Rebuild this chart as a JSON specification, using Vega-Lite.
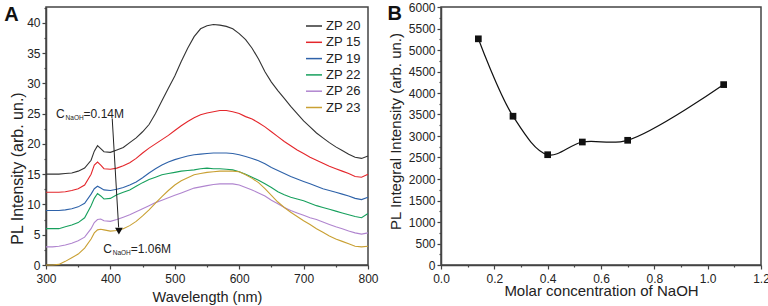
{
  "$schema": "https://vega.github.io/schema/vega-lite/v6.json",
  "autosize": {"type": "pad"},
  "padding": {"left": 3, "top": 0, "right": 0, "bottom": 0},
  "spacing": 7,
  "config": {
    "font": "Liberation Sans",
    "view": {"stroke": "#444", "strokeWidth": 1.5},
    "axis": {"grid": false, "domainColor": "#444", "domainWidth": 1.5, "tickColor": "#444", "tickWidth": 1.2, "labelColor": "#222", "labelFontSize": 12, "titleColor": "#222", "titleFontWeight": "normal", "labelFont": "Liberation Sans", "titleFont": "Liberation Sans", "labelOverlap": false, "labelFlush": false},
    "legend": {"labelFont": "Liberation Sans"}
  },
  "datasets": {
    "spec": [
      {"w":300,"ZP 20":15.0,"ZP 15":12.0,"ZP 19":9.0,"ZP 22":6.0,"ZP 26":3.0,"ZP 23":0.0},
      {"w":310,"ZP 20":15.0,"ZP 15":12.0,"ZP 19":9.0,"ZP 22":6.0,"ZP 26":3.0,"ZP 23":0.0},
      {"w":320,"ZP 20":15.0,"ZP 15":12.0,"ZP 19":9.0,"ZP 22":6.0,"ZP 26":3.1,"ZP 23":0.1},
      {"w":330,"ZP 20":15.1,"ZP 15":12.1,"ZP 19":9.1,"ZP 22":6.3,"ZP 26":3.3,"ZP 23":0.6},
      {"w":340,"ZP 20":15.2,"ZP 15":12.3,"ZP 19":9.3,"ZP 22":6.6,"ZP 26":3.6,"ZP 23":1.2},
      {"w":350,"ZP 20":15.5,"ZP 15":12.6,"ZP 19":9.6,"ZP 22":7.0,"ZP 26":4.0,"ZP 23":1.8},
      {"w":360,"ZP 20":16.0,"ZP 15":13.2,"ZP 19":10.2,"ZP 22":7.8,"ZP 26":4.6,"ZP 23":2.8},
      {"w":370,"ZP 20":17.3,"ZP 15":15.0,"ZP 19":11.7,"ZP 22":9.8,"ZP 26":6.0,"ZP 23":4.3},
      {"w":375,"ZP 20":18.8,"ZP 15":16.5,"ZP 19":12.6,"ZP 22":11.0,"ZP 26":7.0,"ZP 23":5.3},
      {"w":380,"ZP 20":19.7,"ZP 15":17.0,"ZP 19":13.0,"ZP 22":11.8,"ZP 26":7.5,"ZP 23":5.8},
      {"w":385,"ZP 20":19.2,"ZP 15":16.5,"ZP 19":12.7,"ZP 22":11.4,"ZP 26":7.6,"ZP 23":5.9},
      {"w":390,"ZP 20":18.7,"ZP 15":15.9,"ZP 19":12.4,"ZP 22":10.9,"ZP 26":7.3,"ZP 23":5.8},
      {"w":400,"ZP 20":18.6,"ZP 15":15.8,"ZP 19":12.3,"ZP 22":11.0,"ZP 26":7.2,"ZP 23":5.6},
      {"w":410,"ZP 20":19.0,"ZP 15":16.0,"ZP 19":12.5,"ZP 22":11.6,"ZP 26":7.5,"ZP 23":5.7},
      {"w":420,"ZP 20":19.4,"ZP 15":16.4,"ZP 19":12.8,"ZP 22":12.0,"ZP 26":7.9,"ZP 23":6.0},
      {"w":430,"ZP 20":20.2,"ZP 15":16.9,"ZP 19":13.2,"ZP 22":12.4,"ZP 26":8.3,"ZP 23":6.5},
      {"w":440,"ZP 20":21.0,"ZP 15":17.6,"ZP 19":13.7,"ZP 22":13.0,"ZP 26":8.8,"ZP 23":7.2},
      {"w":450,"ZP 20":22.0,"ZP 15":18.5,"ZP 19":14.4,"ZP 22":13.6,"ZP 26":9.3,"ZP 23":8.1},
      {"w":460,"ZP 20":23.2,"ZP 15":19.3,"ZP 19":15.2,"ZP 22":14.1,"ZP 26":9.8,"ZP 23":9.1},
      {"w":470,"ZP 20":25.0,"ZP 15":20.0,"ZP 19":15.9,"ZP 22":14.5,"ZP 26":10.3,"ZP 23":10.2},
      {"w":480,"ZP 20":27.1,"ZP 15":20.7,"ZP 19":16.5,"ZP 22":14.9,"ZP 26":10.7,"ZP 23":11.3},
      {"w":490,"ZP 20":29.2,"ZP 15":21.4,"ZP 19":17.0,"ZP 22":15.1,"ZP 26":11.1,"ZP 23":12.3},
      {"w":500,"ZP 20":31.2,"ZP 15":22.2,"ZP 19":17.4,"ZP 22":15.3,"ZP 26":11.5,"ZP 23":13.2},
      {"w":510,"ZP 20":33.6,"ZP 15":23.0,"ZP 19":17.7,"ZP 22":15.5,"ZP 26":11.9,"ZP 23":13.9},
      {"w":520,"ZP 20":35.8,"ZP 15":23.7,"ZP 19":18.0,"ZP 22":15.6,"ZP 26":12.3,"ZP 23":14.4},
      {"w":530,"ZP 20":37.7,"ZP 15":24.3,"ZP 19":18.2,"ZP 22":15.7,"ZP 26":12.7,"ZP 23":14.9},
      {"w":540,"ZP 20":39.0,"ZP 15":24.8,"ZP 19":18.3,"ZP 22":15.9,"ZP 26":12.9,"ZP 23":15.1},
      {"w":550,"ZP 20":39.5,"ZP 15":25.1,"ZP 19":18.4,"ZP 22":16.0,"ZP 26":13.1,"ZP 23":15.3},
      {"w":560,"ZP 20":39.7,"ZP 15":25.3,"ZP 19":18.5,"ZP 22":15.9,"ZP 26":13.3,"ZP 23":15.4},
      {"w":570,"ZP 20":39.6,"ZP 15":25.5,"ZP 19":18.5,"ZP 22":15.9,"ZP 26":13.4,"ZP 23":15.5},
      {"w":580,"ZP 20":39.4,"ZP 15":25.5,"ZP 19":18.5,"ZP 22":15.8,"ZP 26":13.4,"ZP 23":15.5},
      {"w":590,"ZP 20":39.0,"ZP 15":25.3,"ZP 19":18.4,"ZP 22":15.7,"ZP 26":13.4,"ZP 23":15.5},
      {"w":600,"ZP 20":38.2,"ZP 15":25.0,"ZP 19":18.2,"ZP 22":15.4,"ZP 26":13.2,"ZP 23":15.4},
      {"w":610,"ZP 20":37.2,"ZP 15":24.5,"ZP 19":17.9,"ZP 22":15.0,"ZP 26":12.8,"ZP 23":14.9},
      {"w":620,"ZP 20":35.8,"ZP 15":24.1,"ZP 19":17.6,"ZP 22":14.5,"ZP 26":12.4,"ZP 23":14.3},
      {"w":630,"ZP 20":34.0,"ZP 15":23.5,"ZP 19":17.2,"ZP 22":14.0,"ZP 26":11.9,"ZP 23":13.6},
      {"w":640,"ZP 20":31.9,"ZP 15":22.8,"ZP 19":16.7,"ZP 22":13.4,"ZP 26":11.4,"ZP 23":12.6},
      {"w":650,"ZP 20":30.2,"ZP 15":22.0,"ZP 19":16.1,"ZP 22":12.8,"ZP 26":10.7,"ZP 23":11.5},
      {"w":660,"ZP 20":28.8,"ZP 15":21.2,"ZP 19":15.6,"ZP 22":12.1,"ZP 26":10.1,"ZP 23":10.4},
      {"w":670,"ZP 20":27.5,"ZP 15":20.4,"ZP 19":15.1,"ZP 22":11.6,"ZP 26":9.5,"ZP 23":9.5},
      {"w":680,"ZP 20":26.2,"ZP 15":19.7,"ZP 19":14.6,"ZP 22":11.2,"ZP 26":9.0,"ZP 23":8.7},
      {"w":690,"ZP 20":25.0,"ZP 15":19.0,"ZP 19":14.2,"ZP 22":10.9,"ZP 26":8.6,"ZP 23":8.0},
      {"w":700,"ZP 20":23.8,"ZP 15":18.4,"ZP 19":13.8,"ZP 22":10.6,"ZP 26":8.2,"ZP 23":7.3},
      {"w":710,"ZP 20":22.8,"ZP 15":17.8,"ZP 19":13.4,"ZP 22":10.2,"ZP 26":7.8,"ZP 23":6.7},
      {"w":720,"ZP 20":21.8,"ZP 15":17.3,"ZP 19":13.0,"ZP 22":9.8,"ZP 26":7.5,"ZP 23":6.0},
      {"w":730,"ZP 20":21.0,"ZP 15":16.8,"ZP 19":12.6,"ZP 22":9.5,"ZP 26":7.1,"ZP 23":5.4},
      {"w":740,"ZP 20":20.2,"ZP 15":16.3,"ZP 19":12.3,"ZP 22":9.2,"ZP 26":6.7,"ZP 23":4.8},
      {"w":750,"ZP 20":19.5,"ZP 15":15.9,"ZP 19":12.0,"ZP 22":8.9,"ZP 26":6.3,"ZP 23":4.3},
      {"w":760,"ZP 20":18.9,"ZP 15":15.5,"ZP 19":11.7,"ZP 22":8.6,"ZP 26":6.0,"ZP 23":3.9},
      {"w":770,"ZP 20":18.3,"ZP 15":15.1,"ZP 19":11.4,"ZP 22":8.3,"ZP 26":5.6,"ZP 23":3.5},
      {"w":780,"ZP 20":17.8,"ZP 15":14.6,"ZP 19":11.0,"ZP 22":8.0,"ZP 26":5.3,"ZP 23":3.1},
      {"w":790,"ZP 20":17.6,"ZP 15":14.5,"ZP 19":10.8,"ZP 22":7.8,"ZP 26":5.1,"ZP 23":3.0},
      {"w":800,"ZP 20":18.0,"ZP 15":15.0,"ZP 19":11.2,"ZP 22":8.5,"ZP 26":5.3,"ZP 23":3.1}
    ],
    "ann": [
      {"w":315.6,"v":24.2,"t":"C","k":"main"},
      {"w":330.4,"v":23.9,"t":"NaOH","k":"sub"},
      {"w":358.4,"v":24.2,"t":"=0.14M","k":"main"},
      {"w":388.8,"v":2.0,"t":"C","k":"main"},
      {"w":403.6,"v":1.7,"t":"NaOH","k":"sub"},
      {"w":431.6,"v":2.0,"t":"=1.06M","k":"main"}
    ],
    "arrow": [{"w":402.8,"v":24.2,"w2":412.8,"v2":6.2}],
    "head": [{"w":413.2,"v":5.6}],
    "labA": [{"w":246.3,"v":41.3,"t":"A"}],
    "pts": [
      {"c":0.14,"p":5260},
      {"c":0.27,"p":3460},
      {"c":0.40,"p":2565},
      {"c":0.53,"p":2860},
      {"c":0.70,"p":2900},
      {"c":1.06,"p":4195}
    ],
    "labB": [{"c":-0.174,"p":5837,"t":"B"}]
  },
  "hconcat": [
    {
      "width": 322,
      "height": 258,
      "layer": [
        {
          "data": {"name": "spec"},
          "transform": [{"fold": ["ZP 20","ZP 15","ZP 19","ZP 22","ZP 26","ZP 23"], "as": ["s","v"]}],
          "mark": {"type": "line", "strokeWidth": 1.1},
          "encoding": {
            "x": {"field": "w", "type": "quantitative", "scale": {"domain": [300, 800], "nice": false, "zero": false},
              "axis": {"title": "Wavelength (nm)", "values": [300,350,400,450,500,550,600,650,700,750,800], "tickCount": 200,
                "labelExpr": "datum.value % 100 === 0 ? format(datum.value, 'd') : ''", "labelOverlap": false,
                "tickSize": {"condition": {"test": "datum.value % 100 !== 0", "value": 2}, "value": 4},
                "labelPadding": 4, "titleFontSize": 14.5, "titleY": 32, "titleBaseline": "middle"}},
            "y": {"field": "v", "type": "quantitative", "scale": {"domain": [0, 42.6], "nice": false},
              "axis": {"title": "PL Intensity (arb. un.)", "values": [0,2.5,5,7.5,10,12.5,15,17.5,20,22.5,25,27.5,30,32.5,35,37.5,40,42.5], "tickCount": 200,
                "labelExpr": "datum.value % 5 === 0 ? format(datum.value, 'd') : ''", "labelOverlap": false,
                "tickSize": {"condition": {"test": "datum.value % 5 !== 0", "value": 2}, "value": 4},
                "labelPadding": 2, "titleFontSize": 16, "titleX": -29, "titleY": 161, "titleBaseline": "middle"}},
            "color": {"field": "s", "type": "nominal", "sort": null,
              "scale": {"domain": ["ZP 20","ZP 15","ZP 19","ZP 22","ZP 26","ZP 23"], "range": ["#333333","#e4262b","#2e62a9","#17a05d","#b085cf","#c9a033"]},
              "legend": {"title": null, "orient": "none", "legendX": 259, "legendY": 10, "padding": 0, "symbolType": "stroke", "symbolSize": 256, "symbolStrokeWidth": 1.5, "labelFontSize": 13, "labelColor": "#222", "rowPadding": 0.3, "labelOffset": 3}}
          }
        },
        {
          "data": {"name": "ann"},
          "transform": [{"filter": "datum.k === 'main'"}],
          "mark": {"type": "text", "align": "left", "baseline": "alphabetic", "fontSize": 12, "color": "#222"},
          "encoding": {
            "x": {"field": "w", "type": "quantitative", "title": "Wavelength (nm)"},
            "y": {"field": "v", "type": "quantitative", "title": "PL Intensity (arb. un.)"},
            "text": {"field": "t"}
          }
        },
        {
          "data": {"name": "ann"},
          "transform": [{"filter": "datum.k === 'sub'"}],
          "mark": {"type": "text", "align": "left", "baseline": "alphabetic", "fontSize": 6.5, "color": "#222"},
          "encoding": {
            "x": {"field": "w", "type": "quantitative", "title": "Wavelength (nm)"},
            "y": {"field": "v", "type": "quantitative", "title": "PL Intensity (arb. un.)"},
            "text": {"field": "t"}
          }
        },
        {
          "data": {"name": "arrow"},
          "mark": {"type": "rule", "color": "#222", "strokeWidth": 1},
          "encoding": {
            "x": {"field": "w", "type": "quantitative", "title": "Wavelength (nm)"},
            "y": {"field": "v", "type": "quantitative", "title": "PL Intensity (arb. un.)"},
            "x2": {"field": "w2"},
            "y2": {"field": "v2"}
          }
        },
        {
          "data": {"name": "head"},
          "mark": {"type": "point", "shape": "triangle-down", "filled": true, "color": "#111", "size": 60, "opacity": 1},
          "encoding": {
            "x": {"field": "w", "type": "quantitative", "title": "Wavelength (nm)"},
            "y": {"field": "v", "type": "quantitative", "title": "PL Intensity (arb. un.)"}
          }
        },
        {
          "data": {"name": "labA"},
          "mark": {"type": "text", "align": "center", "baseline": "middle", "fontSize": 20, "fontWeight": "bold", "color": "#111"},
          "encoding": {
            "x": {"field": "w", "type": "quantitative", "title": "Wavelength (nm)"},
            "y": {"field": "v", "type": "quantitative", "title": "PL Intensity (arb. un.)"},
            "text": {"field": "t"}
          }
        }
      ]
    },
    {
      "width": 320,
      "height": 258,
      "layer": [
        {
          "data": {"name": "pts"},
          "mark": {"type": "line", "interpolate": "catmull-rom", "color": "#111", "strokeWidth": 1.2},
          "encoding": {
            "x": {"field": "c", "type": "quantitative", "scale": {"domain": [0, 1.2], "nice": false},
              "axis": {"title": "Molar concentration of NaOH", "values": [0,0.1,0.2,0.3,0.4,0.5,0.6,0.7,0.8,0.9,1.0,1.1,1.2], "tickCount": 200,
                "labelExpr": "round(datum.value*10) % 2 === 0 ? format(datum.value, '.1f') : ''", "labelOverlap": false,
                "tickSize": {"condition": {"test": "round(datum.value*10) % 2 !== 0", "value": 2}, "value": 4},
                "labelPadding": 4, "titleFontSize": 15, "titleY": 25, "titleBaseline": "middle"}},
            "y": {"field": "p", "type": "quantitative", "scale": {"domain": [0, 6000], "nice": false},
              "axis": {"title": "PL Integral Intensity (arb. un.)", "values": [0,250,500,750,1000,1250,1500,1750,2000,2250,2500,2750,3000,3250,3500,3750,4000,4250,4500,4750,5000,5250,5500,5750,6000], "tickCount": 200,
                "labelExpr": "datum.value % 500 === 0 ? format(datum.value, 'd') : ''", "labelOverlap": false,
                "tickSize": {"condition": {"test": "datum.value % 500 !== 0", "value": 2}, "value": 4},
                "labelPadding": 2, "titleFontSize": 15, "titleX": -46, "titleY": 124, "titleBaseline": "middle"}}
          }
        },
        {
          "data": {"name": "pts"},
          "mark": {"type": "point", "shape": "square", "filled": true, "color": "#111", "size": 45, "opacity": 1},
          "encoding": {
            "x": {"field": "c", "type": "quantitative", "title": "Molar concentration of NaOH"},
            "y": {"field": "p", "type": "quantitative", "title": "PL Integral Intensity (arb. un.)"}
          }
        },
        {
          "data": {"name": "labB"},
          "mark": {"type": "text", "align": "center", "baseline": "middle", "fontSize": 20, "fontWeight": "bold", "color": "#111"},
          "encoding": {
            "x": {"field": "c", "type": "quantitative", "title": "Molar concentration of NaOH"},
            "y": {"field": "p", "type": "quantitative", "title": "PL Integral Intensity (arb. un.)"},
            "text": {"field": "t"}
          }
        }
      ]
    }
  ]
}
